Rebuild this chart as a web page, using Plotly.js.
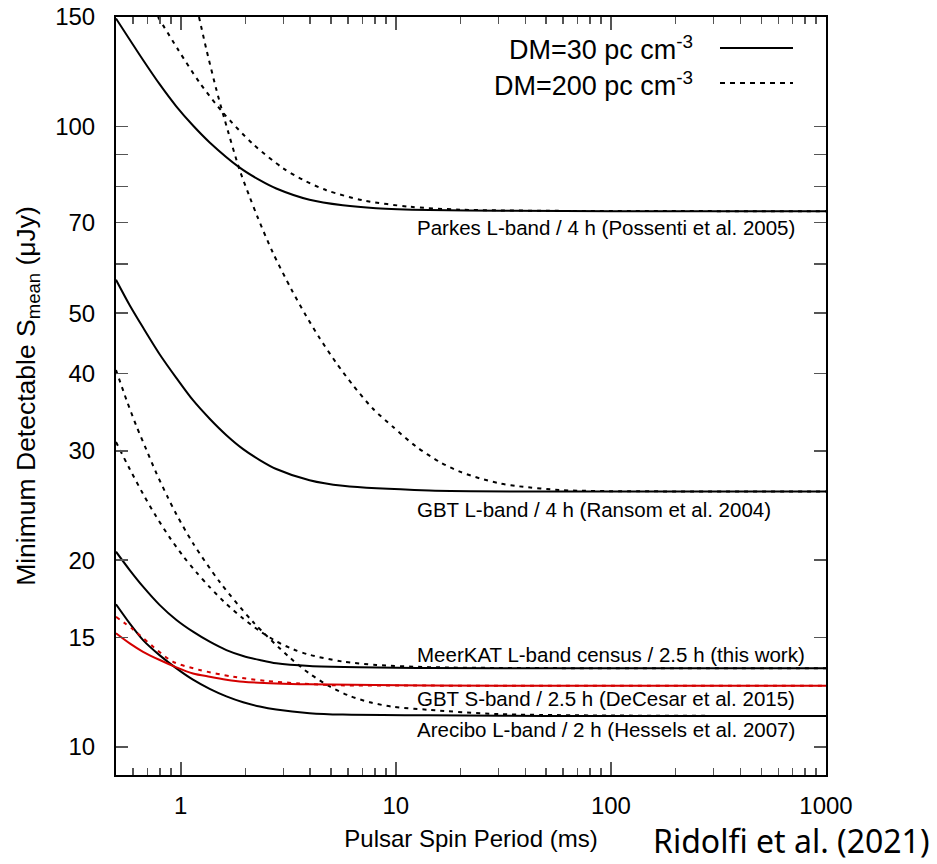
<!DOCTYPE html>
<html><head><meta charset="utf-8">
<script src="https://cdn.plot.ly/plotly-3.0.1.min.js"></script>
<style>html,body{margin:0;padding:0;background:#fff}#chart{width:937px;height:864px}</style>
</head><body><div id="chart"></div>
<script>
// Spin period (ms) and minimum detectable mean flux density (uJy)
const parkesDM30_P  = [0.5, 0.668, 0.799, 0.955, 1.14, 1.363, 1.88, 2.33, 2.78, 3.97, 5.67, 8.1, 14.3, 30, 100, 1000];
const parkesDM30_S  = [149.2, 127.9, 116.8, 107.6, 100.3, 94.2, 85.8, 81.9, 79.4, 76.15, 74.6, 73.8, 73.3, 73.1, 73.0, 73.0];
const parkesDM200_P = [0.784, 0.972, 1.225, 1.572, 2.17, 2.99, 3.70, 4.75, 7.03, 11.6, 20, 50, 1000];
const parkesDM200_S = [150, 132.9, 117.5, 105.2, 93.6, 85.6, 82.0, 78.9, 76.0, 74.2, 73.4, 73.1, 73.0];

const gbtLDM30_P  = [0.5, 0.579, 0.668, 0.799, 0.955, 1.14, 1.363, 1.63, 1.95, 2.33, 2.78, 3.97, 5.67, 14.3, 50, 1000];
const gbtLDM30_S  = [56.6, 51.5, 47.4, 42.9, 39.3, 36.2, 33.8, 31.8, 30.2, 29.0, 28.05, 26.9, 26.35, 25.9, 25.8, 25.8];
const gbtLDM200_P = [1.216, 1.316, 1.465, 1.601, 1.88, 2.09, 2.28, 2.68, 3.27, 3.83, 4.42, 5.28, 6.31, 7.81, 9.69, 12.4, 15.97, 19.7, 24.5, 30.3, 37.5, 57.5, 88, 1000];
const gbtLDM200_S = [150, 133.0, 114.5, 102.4, 85.0, 77.0, 71.3, 62.6, 54.6, 49.5, 45.6, 41.6, 38.3, 35.1, 32.8, 30.5, 28.8, 27.8, 27.1, 26.6, 26.3, 25.95, 25.85, 25.8];

const meerkatDM30_P  = [0.5, 0.579, 0.668, 0.799, 0.955, 1.14, 1.363, 1.63, 1.95, 2.33, 2.78, 3.97, 14.3, 50, 1000];
const meerkatDM30_S  = [20.64, 19.28, 18.13, 16.93, 16.02, 15.34, 14.78, 14.33, 14.02, 13.81, 13.64, 13.51, 13.41, 13.4, 13.4];
const meerkatDM200_P = [0.5, 0.579, 0.668, 0.771, 0.889, 1.025, 1.18, 1.363, 1.63, 1.95, 2.33, 2.78, 3.32, 3.97, 5.67, 8.1, 14.3, 30, 1000];
const meerkatDM200_S = [31.0, 28.05, 25.57, 23.48, 21.75, 20.31, 19.14, 18.10, 17.0, 16.11, 15.38, 14.80, 14.38, 14.08, 13.73, 13.56, 13.45, 13.41, 13.4];

const gbtSDM30_P  = [0.5, 0.579, 0.668, 0.799, 0.955, 1.14, 1.363, 1.63, 1.95, 2.78, 3.97, 14.3, 50, 1000];
const gbtSDM30_S  = [15.25, 14.69, 14.24, 13.81, 13.44, 13.14, 12.98, 12.84, 12.74, 12.66, 12.62, 12.57, 12.55, 12.55];
const gbtSDM200_P = [0.5, 0.6, 0.744, 0.921, 1.225, 1.75, 2.5, 3.57, 5.1, 14.3, 50, 1000];
const gbtSDM200_S = [16.21, 15.47, 14.51, 13.72, 13.31, 12.98, 12.78, 12.66, 12.58, 12.56, 12.55, 12.55];

const areciboDM30_P  = [0.5, 0.579, 0.668, 0.799, 0.955, 1.14, 1.363, 1.63, 1.95, 2.33, 2.78, 3.97, 5.67, 14.3, 50, 1000];
const areciboDM30_S  = [16.98, 15.82, 14.87, 14.05, 13.39, 12.84, 12.41, 12.07, 11.81, 11.62, 11.49, 11.34, 11.28, 11.25, 11.22, 11.22];
const areciboDM200_P = [0.5, 0.56, 0.622, 0.693, 0.771, 0.873, 0.955, 1.14, 1.517, 2.17, 3.21, 3.97, 4.93, 6.09, 7.55, 9.69, 14.3, 30, 1000];
const areciboDM200_S = [40.5, 36.2, 32.9, 30.1, 27.6, 25.2, 23.7, 21.3, 18.45, 15.9, 13.94, 13.13, 12.52, 12.09, 11.81, 11.61, 11.48, 11.3, 11.22];

const surveyLabels = [
  "Parkes L-band / 4 h (Possenti et al. 2005)",
  "GBT L-band / 4 h (Ransom et al. 2004)",
  "MeerKAT L-band census / 2.5 h (this work)",
  "GBT S-band / 2.5 h (DeCesar et al. 2015)",
  "Arecibo L-band / 2 h (Hessels et al. 2007)"
];
const legendLabels = ["DM=30 pc cm<sup>-3</sup>", "DM=200 pc cm<sup>-3</sup>"];

const xTickVals = [1, 10, 100, 1000];
const xTickText = ["1", "10", "100", "1000"];
const xMinorVals = [0.6, 0.7, 0.8, 0.9, 2, 3, 4, 5, 6, 7, 8, 9, 20, 30, 40, 50, 60, 70, 80, 90, 200, 300, 400, 500, 600, 700, 800, 900];
const yTickVals = [10, 15, 20, 30, 40, 50, 70, 100, 150];
const yTickText = ["10", "15", "20", "30", "40", "50", "70", "100", "150"];
const yMinorVals = [60, 80, 90];

const FONT = "Liberation Sans, Arial, Helvetica, sans-serif";
const BLACK = "#000000", RED = "#d40000";
const DASH = "4px,5px";

function curve(x, y, color, dash, name) {
  return {x: x, y: y, type: "scatter", mode: "lines", name: name, showlegend: false,
          hoverinfo: "x+y",
          line: {color: color, width: 2, dash: dash, shape: "spline", smoothing: 0.8}};
}

const data = [
  curve(parkesDM30_P, parkesDM30_S, BLACK, "solid", "Parkes DM=30"),
  curve(parkesDM200_P, parkesDM200_S, BLACK, DASH, "Parkes DM=200"),
  curve(gbtLDM30_P, gbtLDM30_S, BLACK, "solid", "GBT L DM=30"),
  curve(gbtLDM200_P, gbtLDM200_S, BLACK, DASH, "GBT L DM=200"),
  curve(meerkatDM30_P, meerkatDM30_S, BLACK, "solid", "MeerKAT DM=30"),
  curve(meerkatDM200_P, meerkatDM200_S, BLACK, DASH, "MeerKAT DM=200"),
  curve(areciboDM30_P, areciboDM30_S, BLACK, "solid", "Arecibo DM=30"),
  curve(areciboDM200_P, areciboDM200_S, BLACK, DASH, "Arecibo DM=200"),
  curve(gbtSDM200_P, gbtSDM200_S, RED, DASH, "GBT S DM=200"),
  curve(gbtSDM30_P, gbtSDM30_S, RED, "solid", "GBT S DM=30")
];

const labelYs = [0.7223, 0.3503, 0.1596, 0.1012, 0.0594];
const annotations = surveyLabels.map((t, i) => ({
  text: t, xref: "paper", yref: "paper", x: 0.4211, y: labelYs[i],
  xanchor: "left", yanchor: "middle", showarrow: false,
  font: {family: FONT, size: 20.5, color: BLACK}
}));
annotations.push(
  {text: legendLabels[0], xref: "paper", yref: "paper", x: 0.8155, y: 0.9585,
   xanchor: "right", yanchor: "middle", showarrow: false, font: {family: FONT, size: 27, color: BLACK}},
  {text: legendLabels[1], xref: "paper", yref: "paper", x: 0.8155, y: 0.9115,
   xanchor: "right", yanchor: "middle", showarrow: false, font: {family: FONT, size: 27, color: BLACK}},
  {text: "Ridolfi et al. (2021)", xref: "paper", yref: "paper", x: 1.1480, y: -0.086,
   xanchor: "right", yanchor: "middle", showarrow: false, font: {family: "Noto Sans, sans-serif", size: 32, color: BLACK}}
);

const shapes = [
  {type: "line", xref: "paper", yref: "paper", x0: 0.8507, x1: 0.9535, y0: 0.9591, y1: 0.9591,
   line: {color: BLACK, width: 2}},
  {type: "line", xref: "paper", yref: "paper", x0: 0.8507, x1: 0.9535, y0: 0.9129, y1: 0.9129,
   line: {color: BLACK, width: 2, dash: "5px,5px"}}
];

const layout = {
  width: 937, height: 864,
  margin: {l: 116, r: 111, t: 17, b: 89, pad: 0},
  paper_bgcolor: "#ffffff", plot_bgcolor: "#ffffff",
  showlegend: false,
  font: {family: FONT, color: BLACK},
  xaxis: {
    type: "log", range: [Math.log10(0.5), 3], automargin: false,
    tickmode: "array", tickvals: xTickVals, ticktext: xTickText,
    ticks: "inside", ticklen: 13, tickwidth: 1.5, tickcolor: "#555555",
    ticklabelstandoff: 8,
    minor: {tickmode: "array", tickvals: xMinorVals, ticks: "inside", ticklen: 7, tickwidth: 1.5, tickcolor: "#555555", showgrid: false},
    showline: true, linewidth: 2, linecolor: BLACK, mirror: "ticks",
    showgrid: false, zeroline: false,
    tickfont: {family: FONT, size: 24, color: BLACK},
    title: {text: "Pulsar Spin Period (ms)", font: {family: FONT, size: 24, color: BLACK}, standoff: 12}
  },
  yaxis: {
    type: "log", range: [Math.log10(9.015), Math.log10(150)], automargin: false,
    tickmode: "array", tickvals: yTickVals, ticktext: yTickText,
    ticks: "inside", ticklen: 12, tickwidth: 1.5, tickcolor: "#555555",
    ticklabelstandoff: 14,
    minor: {tickmode: "array", tickvals: yMinorVals, ticks: "inside", ticklen: 12, tickwidth: 1.5, tickcolor: "#555555", showgrid: false},
    showline: true, linewidth: 2, linecolor: BLACK, mirror: "ticks",
    showgrid: false, zeroline: false,
    tickfont: {family: FONT, size: 24, color: BLACK},
    title: {text: "Minimum Detectable S<sub>mean</sub> (μJy)", font: {family: FONT, size: 26.5, color: BLACK}, standoff: 12}
  },
  annotations: annotations,
  shapes: shapes
};

Plotly.newPlot("chart", data, layout, {displayModeBar: false, staticPlot: true});
</script>
</body></html>
